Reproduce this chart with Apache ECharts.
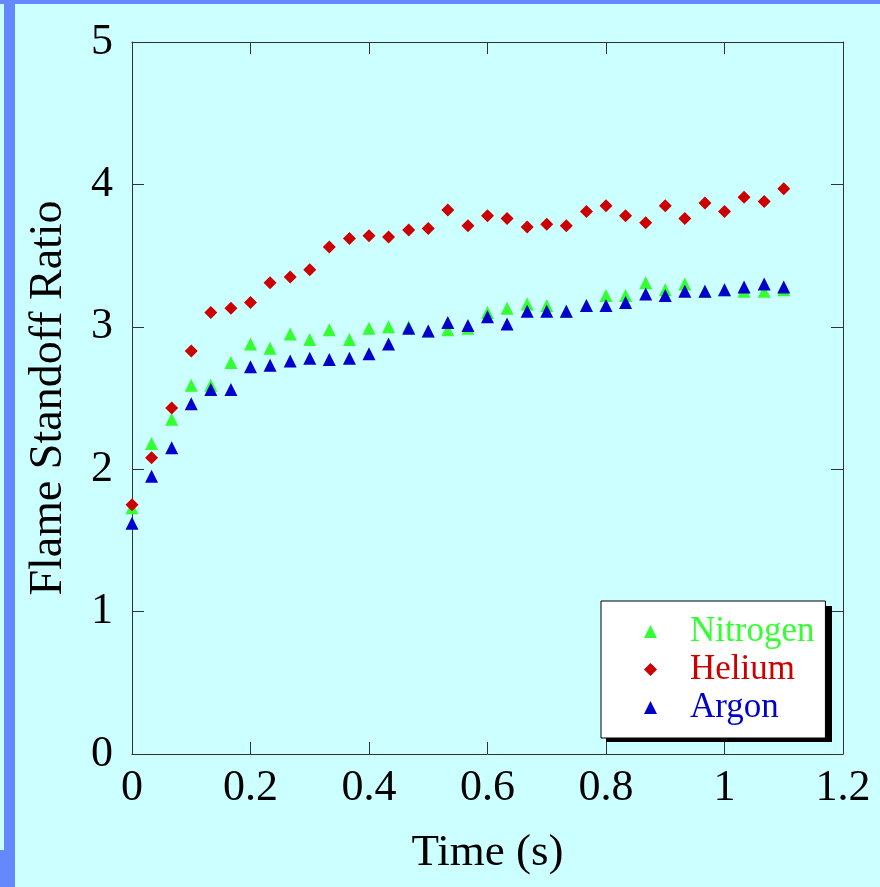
<!DOCTYPE html>
<html>
<head>
<meta charset="utf-8">
<title>Flame Standoff Ratio</title>
<script src="https://cdn.jsdelivr.net/npm/echarts@6/dist/echarts.min.js"></script>
<style>
  html, body { margin: 0; padding: 0; background: #ccffff; }
  #chart { width: 880px; height: 887px; }
</style>
</head>
<body>
<div id="chart"></div>
<script>
// time points, roughly every 1/30 s
const times = [0, 0.033, 0.067, 0.1, 0.133, 0.167, 0.2, 0.233, 0.267, 0.3,
  0.333, 0.367, 0.4, 0.433, 0.467, 0.5, 0.533, 0.567, 0.6, 0.633,
  0.667, 0.7, 0.733, 0.767, 0.8, 0.833, 0.867, 0.9, 0.933, 0.967,
  1.0, 1.033, 1.067, 1.1]

const nitrogen = [1.73, 2.18, 2.35, 2.59, 2.59, 2.75, 2.88, 2.85, 2.95, 2.91,
  2.98, 2.91, 2.99, 3.00, 3.00, 2.97, 2.98, 2.99, 3.10, 3.13,
  3.16, 3.15, 3.11, 3.15, 3.22, 3.22, 3.31, 3.26, 3.30, 3.25,
  3.26, 3.25, 3.25, 3.26]

const helium = [1.75, 2.08, 2.43, 2.83, 3.10, 3.13, 3.17, 3.31, 3.35, 3.40,
  3.56, 3.62, 3.64, 3.63, 3.68, 3.69, 3.82, 3.71, 3.78, 3.76,
  3.70, 3.72, 3.71, 3.81, 3.85, 3.78, 3.73, 3.85, 3.76, 3.87,
  3.81, 3.91, 3.88, 3.97]

const argon = [1.62, 1.95, 2.15, 2.46, 2.56, 2.56, 2.72, 2.73, 2.76, 2.78,
  2.77, 2.78, 2.81, 2.88, 2.99, 2.97, 3.03, 3.01, 3.07, 3.02,
  3.11, 3.11, 3.11, 3.15, 3.15, 3.17, 3.23, 3.22, 3.25, 3.25,
  3.26, 3.28, 3.30, 3.28]

const seriesNames = ['Nitrogen', 'Helium', 'Argon']
const seriesColors = ['#33ff33', '#cc0000', '#0000cc']
const seriesSymbols = ['triangle', 'diamond', 'triangle']

const FONT = "'Liberation Serif', 'Times New Roman', serif"
const AXIS_COLOR = '#333'

function pairs(ys) {
  return times.map((t, i) => [t, ys[i]])
}

// every axis gets a frame line and inward ticks; onZero off so the
// top / right copies stay on the frame
function axisBase(extra) {
  return Object.assign({
    type: 'value',
    axisLine: { show: true, onZero: false, lineStyle: { color: AXIS_COLOR, width: 1 } },
    axisTick: { show: true, inside: true, length: 12, lineStyle: { color: AXIS_COLOR } },
    splitLine: { show: false },
    axisLabel: { color: '#000', fontFamily: FONT, fontSize: 44 },
  }, extra)
}

const chart = echarts.init(document.getElementById('chart'))

const values = [nitrogen, helium, argon]

chart.setOption({
  backgroundColor: '#ccffff',
  animation: false,
  graphic: [
    { type: 'rect', shape: { x: 0, y: 0, width: 880, height: 4 }, style: { fill: '#6688ff' } },
    { type: 'rect', shape: { x: 4, y: 0, width: 11, height: 887 }, style: { fill: '#6688ff' } },
    { type: 'rect', shape: { x: 0, y: 850, width: 4, height: 37 }, style: { fill: '#6688ff' } },
    // drop shadow behind the legend box
    { type: 'rect', z: 3, shape: { x: 606, y: 606, width: 226, height: 136 }, style: { fill: '#000' } },
  ],
  grid: { left: 132, right: 37, top: 42, bottom: 133 },
  xAxis: [
    axisBase({
      min: 0, max: 1.2, interval: 0.2,
      axisLabel: { color: '#000', fontFamily: FONT, fontSize: 44, margin: 12 },
      name: 'Time (s)',
      nameLocation: 'middle',
      nameGap: 77,
      nameTextStyle: { color: '#000', fontFamily: FONT, fontSize: 45 },
    }),
    axisBase({ min: 0, max: 1.2, interval: 0.2, position: 'top', axisLabel: { show: false } }),
  ],
  yAxis: [
    axisBase({
      min: 0, max: 5, interval: 1,
      axisLabel: { color: '#000', fontFamily: FONT, fontSize: 44, margin: 19 },
      name: 'Flame Standoff Ratio',
      nameLocation: 'middle',
      nameRotate: 90,
      nameGap: 60,
      nameTextStyle: { color: '#000', fontFamily: FONT, fontSize: 46 },
    }),
    axisBase({ min: 0, max: 5, interval: 1, position: 'right', axisLabel: { show: false } }),
  ],
  legend: {
    orient: 'vertical',
    left: 601,
    top: 601,
    z: 4,
    padding: [13, 11, 13, 43],
    itemWidth: 13,
    itemHeight: 13,
    itemGap: 3,
    backgroundColor: '#fff',
    borderColor: '#000',
    borderWidth: 1,
    borderRadius: 0,
    textStyle: { fontFamily: FONT, fontSize: 35, lineHeight: 35, padding: [0, 0, 0, 28] },
    data: seriesNames.map((n, i) => ({
      name: n,
      icon: seriesSymbols[i],
      itemStyle: { color: seriesColors[i] },
      textStyle: { color: seriesColors[i] },
    })),
  },
  series: seriesNames.map((n, i) => ({
    name: n,
    type: 'scatter',
    symbol: seriesSymbols[i],
    symbolSize: 13,
    itemStyle: { color: seriesColors[i], opacity: 1 },
    data: pairs(values[i]),
  })),
})
</script>
</body>
</html>
